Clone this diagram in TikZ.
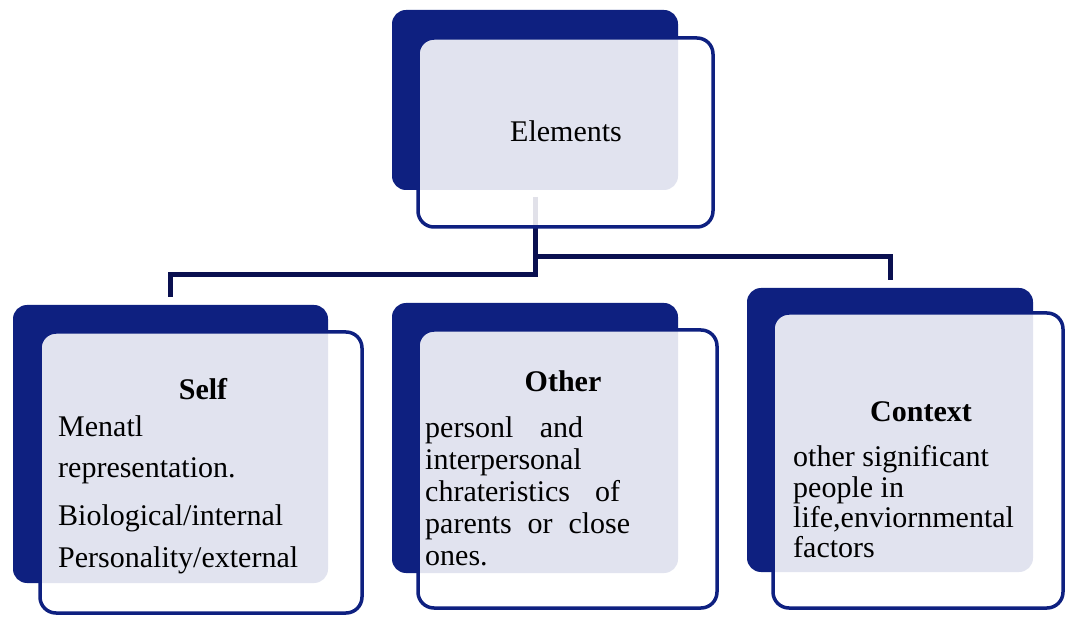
\documentclass[tikz,border=0pt]{standalone}
\usepackage{fontspec}
\setmainfont{Liberation Serif}
\definecolor{navy}{RGB}{14,32,128}
\definecolor{connnavy}{RGB}{10,16,80}
\tikzset{
  backbox/.style={draw=none, fill=navy, rounded corners=14pt, inner sep=0pt, outer sep=0pt},
  frontbox/.style={draw=navy, line width=3.5pt, fill=white, fill opacity=0.88, draw opacity=1, rounded corners=16pt, inner sep=0pt, outer sep=0pt},
  connector/.style={draw=connnavy, line width=5pt},
  body/.style={font=\fontsize{30}{33}\selectfont, anchor=base west, inner sep=0pt, text=black},
  title/.style={font=\bfseries\fontsize{30}{33}\selectfont, anchor=base, inner sep=0pt, text=black},
}
\begin{document}
\begin{tikzpicture}[x=1pt,y=-1pt]
\fill[white] (0,0) rectangle (1066,617);
\useasboundingbox (0,0) rectangle (1066,617);

% back boxes
\node[backbox, minimum width=286pt, minimum height=180pt] (topback) at (535,100) {};
\node[backbox, minimum width=315pt, minimum height=278pt] (selfback) at (170.5,444) {};
\node[backbox, minimum width=286pt, minimum height=270pt] (otherback) at (535,438) {};
\node[backbox, minimum width=286pt, minimum height=284pt] (ctxback) at (890,430) {};

% connectors (drawn under the front boxes)
\draw[connector] ([yshift=-7pt]topback.south) -- ++(0,78) -| ([yshift=8pt]selfback.north);
\draw[connector] ([yshift=-67pt]topback.south) -| ([yshift=8pt]ctxback.north);

% front boxes
\node[frontbox, minimum width=295pt, minimum height=189pt] (topfront) at (565.5,132.5) {};
\node[frontbox, minimum width=322pt, minimum height=281pt] (selffront) at (201,472.5) {};
\node[frontbox, minimum width=299pt, minimum height=278pt] (otherfront) at (567.5,469) {};
\node[frontbox, minimum width=290pt, minimum height=295pt] (ctxfront) at (918,460.5) {};

% texts
\node[body, anchor=base] (elements) at (566,142) {Elements};

\node[title] (selft) at (203,400) {Self};
\node[body] (self1) at (58,437) {Menatl};
\node[body] (self2) at (58,478) {representation.};
\node[body] (self3) at (58,525) {Biological/internal};
\node[body] (self4) at (58,567) {Personality/external};

\node[title] (othert) at (563,392) {Other};
\node[body] (other1) at (425,438) {\makebox[158pt][s]{personl and}};
\node[body] (other2) at (425,469.75) {interpersonal};
\node[body] (other3) at (425,501.5) {\makebox[195pt][s]{chrateristics of}};
\node[body] (other4) at (425,533.25) {\makebox[205pt][s]{parents or close}};
\node[body] (other5) at (425,565) {ones.};

\node[title] (ctxt) at (921,422) {Context};
\node[body] (ctx1) at (793,467) {other significant};
\node[body] (ctx2) at (793,497) {people in};
\node[body] (ctx3) at (793,527) {life,enviornmental};
\node[body] (ctx4) at (793,557) {factors};
\end{tikzpicture}
\end{document}
